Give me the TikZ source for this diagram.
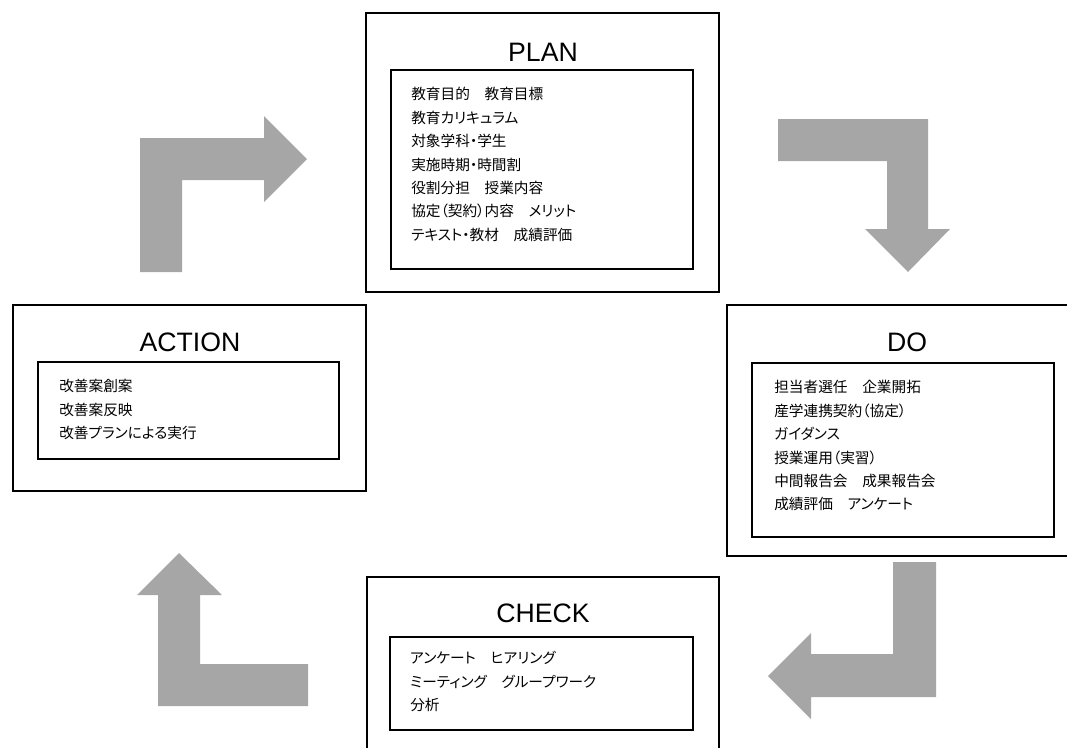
\documentclass[tikz,border=0pt]{standalone}
\usepackage{fontspec}
\setmainfont{Noto Sans CJK JP}[RawFeature=+palt]
\newfontfamily\titlefont{Liberation Sans}
\usepackage{tikz}
\usetikzlibrary{positioning}
\definecolor{arrowgray}{RGB}{166,166,166}

\begin{document}
\begin{tikzpicture}[x=0.75pt, y=-0.75pt, every node/.style={font=\fontsize{11}{17.6}\selectfont}, title/.style={font=\titlefont\fontsize{20}{24}\selectfont}, items/.style={anchor=north west, align=left, inner sep=0pt}, outerbox/.style={draw, line width=1.5pt}, innerbox/.style={draw, line width=0.9pt}, bigarrow/.style={fill=arrowgray}]
	\clip (0,0) rectangle (1067,747);
	\draw[outerbox] (366,13) rectangle (719,292);
	\draw[innerbox] (391,70) rectangle (693,269);
	\node[title] (plan) at (543,52) {PLAN};
	\node[items] (planitems) at (411,87) {教育目的　教育目標\\教育カリキュラム\\対象学科・学生\\実施時期・時間割\\役割分担　授業内容\\協定（契約）内容　メリット\\テキスト・教材　成績評価};
	\draw[outerbox] (727,305) rectangle (1087,556);
	\draw[innerbox] (752,363) rectangle (1054,537);
	\node[title] (do) at (907,342) {DO};
	\node[items] (doitems) at (774,380) {担当者選任　企業開拓\\産学連携契約（協定）\\ガイダンス\\授業運用（実習）\\中間報告会　成果報告会\\成績評価　アンケート};
	\draw[outerbox] (367,577) rectangle (719,760);
	\draw[innerbox] (390,637) rectangle (693,730);
	\node[title] (check) at (543,613) {CHECK};
	\node[items] (checkitems) at (410,651) {アンケート　ヒアリング\\ミーティング　グループワーク\\分析};
	\draw[outerbox] (13,305) rectangle (366,491);
	\draw[innerbox] (38,362) rectangle (339,459);
	\node[title] (action) at (190,342) {ACTION};
	\node[items] (actionitems) at (59,379) {改善案創案\\改善案反映\\改善プランによる実行};
	\fill[bigarrow] (140,272) -- (140,138) -- (264,138) -- (264,116) -- (307,159) -- (264,202) -- (264,180) -- (182,180) -- (182,272) -- cycle;
	\fill[bigarrow] (778,119) -- (928,119) -- (928,229) -- (950,229) -- (908,272) -- (865,229) -- (887,229) -- (887,161) -- (778,161) -- cycle;
	\fill[bigarrow] (936,562) -- (936,697) -- (811,697) -- (811,719) -- (768,676) -- (811,633) -- (811,654) -- (893,654) -- (893,562) -- cycle;
	\fill[bigarrow] (308,706) -- (158,706) -- (158,595) -- (137,595) -- (179,553) -- (222,595) -- (200,595) -- (200,664) -- (308,664) -- cycle;
\end{tikzpicture}
\end{document}
